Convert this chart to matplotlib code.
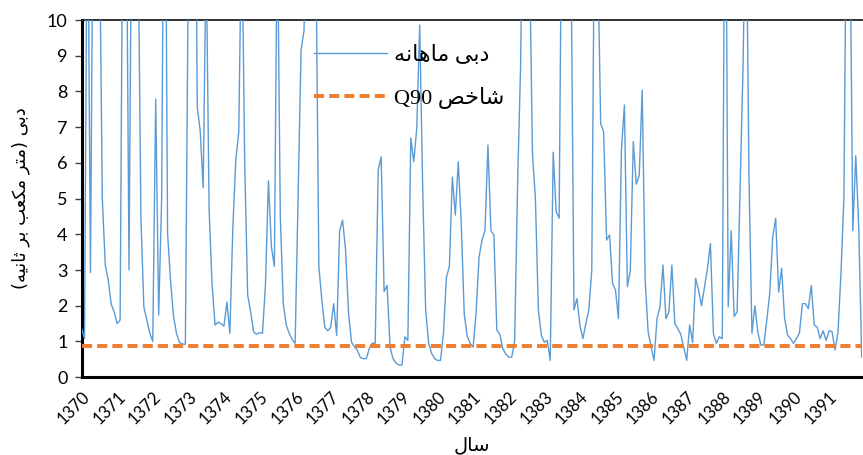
import matplotlib
matplotlib.use('Agg')
import matplotlib.pyplot as plt
import numpy as np
from matplotlib import font_manager, ft2font

# ---------------- data (monthly discharge, m3/s; values > 10 are off-scale) -------------
years = list(range(1370, 1392))
q1370 = [1.37, 1.08, 15, 2.93, 15, 15, 13, 5.0, 3.14, 2.72, 2.04, 1.83]
q1371 = [1.5, 1.6, 15, 15, 3.0, 15, 15, 13, 4.5, 1.97, 1.6, 1.23]
q1372 = [1.0, 7.78, 1.74, 5.0, 18, 4.03, 2.7, 1.7, 1.23, 0.97, 0.93, 0.92]
q1373 = [11.6, 14, 20, 7.57, 6.9, 5.3, 12, 4.7, 2.6, 1.46, 1.54, 1.5]
q1374 = [1.43, 2.1, 1.23, 4.2, 6.08, 6.87, 13, 6.0, 2.3, 1.83, 1.27, 1.2]
q1375 = [1.25, 1.23, 2.6, 5.5, 3.65, 3.1, 13, 4.5, 2.06, 1.46, 1.23, 1.05]
q1376 = [0.95, 5.0, 9.16, 9.7, 15, 15, 15, 12, 3.1, 2.16, 1.4, 1.3]
q1377 = [1.4, 2.06, 1.17, 4.1, 4.4, 3.56, 1.8, 0.98, 0.85, 0.75, 0.55, 0.52]
q1378 = [0.52, 0.8, 0.95, 0.95, 5.8, 6.17, 2.4, 2.57, 0.84, 0.52, 0.4, 0.34]
q1379 = [0.34, 1.13, 1.03, 6.7, 6.03, 6.97, 9.86, 5.3, 1.88, 0.95, 0.67, 0.52]
q1380 = [0.47, 0.47, 1.23, 2.8, 3.1, 5.6, 4.54, 6.03, 4.3, 1.78, 1.15, 0.95]
q1381 = [0.84, 1.8, 3.36, 3.84, 4.1, 6.5, 4.1, 3.98, 1.32, 1.2, 0.8, 0.65]
q1382 = [0.56, 0.56, 1.0, 5.43, 8.7, 15, 15, 12, 6.27, 5.0, 1.88, 1.17]
q1383 = [0.98, 1.03, 0.47, 6.3, 4.63, 4.45, 15, 16, 15, 12, 1.88, 2.2]
q1384 = [1.46, 1.08, 1.5, 1.88, 3.0, 14, 12, 7.1, 6.87, 3.84, 3.98, 2.63]
q1385 = [2.44, 1.64, 6.36, 7.62, 2.53, 3.0, 6.6, 5.4, 5.65, 8.04, 2.72, 1.27]
q1386 = [0.84, 0.47, 1.64, 1.97, 3.14, 1.64, 1.83, 3.14, 1.5, 1.36, 1.2, 0.84]
q1387 = [0.47, 1.46, 0.97, 2.77, 2.44, 2.0, 2.53, 3.04, 3.74, 1.23, 0.95, 1.13]
q1388 = [1.08, 17, 1.97, 4.1, 1.7, 1.83, 5.3, 8.7, 14, 5.6, 1.23, 2.0]
q1389 = [1.25, 0.9, 0.9, 1.6, 2.35, 3.92, 4.45, 2.38, 3.05, 1.65, 1.18, 1.08]
q1390 = [0.95, 1.08, 1.23, 2.06, 2.06, 1.92, 2.57, 1.46, 1.4, 1.08, 1.3, 1.03]
q1391 = [1.3, 1.28, 0.76, 1.25, 2.9, 5.0, 15, 13, 4.1, 6.2, 4.2, 0.56]
q90 = 0.87

monthly = (q1370 + q1371 + q1372 + q1373 + q1374 + q1375 + q1376 + q1377 +
           q1378 + q1379 + q1380 + q1381 + q1382 + q1383 + q1384 + q1385 +
           q1386 + q1387 + q1388 + q1389 + q1390 + q1391)

# ---------------- minimal Arabic/Persian shaping (matplotlib has no text shaping) ------
_dv_path = font_manager.findfont('DejaVu Sans')
_cmap = ft2font.FT2Font(_dv_path).get_charmap()
def _has(c):
    return ord(c) in _cmap

FORMS = {
    '\u0627': ('\uFE8D', '\uFE8E', None, None),
    '\u0628': ('\uFE8F', '\uFE90', '\uFE91', '\uFE92'),
    '\u062A': ('\uFE95', '\uFE96', '\uFE97', '\uFE98'),
    '\u062B': ('\uFE99', '\uFE9A', '\uFE9B', '\uFE9C'),
    '\u062E': ('\uFEA5', '\uFEA6', '\uFEA7', '\uFEA8'),
    '\u062F': ('\uFEA9', '\uFEAA', None, None),
    '\u0631': ('\uFEAD', '\uFEAE', None, None),
    '\u0633': ('\uFEB1', '\uFEB2', '\uFEB3', '\uFEB4'),
    '\u0634': ('\uFEB5', '\uFEB6', '\uFEB7', '\uFEB8'),
    '\u0635': ('\uFEB9', '\uFEBA', '\uFEBB', '\uFEBC'),
    '\u0639': ('\uFEC9', '\uFECA', '\uFECB', '\uFECC'),
    '\u0644': ('\uFEDD', '\uFEDE', '\uFEDF', '\uFEE0'),
    '\u0645': ('\uFEE1', '\uFEE2', '\uFEE3', '\uFEE4'),
    '\u0646': ('\uFEE5', '\uFEE6', '\uFEE7', '\uFEE8'),
    '\u0647': ('\uFEE9', '\uFEEA', '\uFEEB', '\uFEEC'),
}
if all(_has(c) for c in '\uFBFC\uFBFD\uFBFE\uFBFF'):
    FORMS['\u06CC'] = ('\uFBFC', '\uFBFD', '\uFBFE', '\uFBFF')
else:
    FORMS['\u06CC'] = ('\uFEEF', '\uFEF0', '\uFEF3', '\uFEF4')
if all(_has(c) for c in '\uFB8E\uFB8F\uFB90\uFB91'):
    FORMS['\u06A9'] = ('\uFB8E', '\uFB8F', '\uFB90', '\uFB91')
else:
    FORMS['\u06A9'] = ('\uFED9', '\uFEDA', '\uFEDB', '\uFEDC')

MIRROR = {'(': ')', ')': '('}

def ar(s):
    out = []
    for k, c in enumerate(s):
        if c not in FORMS:
            out.append(MIRROR.get(c, c))
            continue
        prev = s[k - 1] if k > 0 else ''
        nxt = s[k + 1] if k + 1 < len(s) else ''
        pj = prev in FORMS and FORMS[prev][2] is not None
        nj = FORMS[c][2] is not None and nxt in FORMS
        iso, fin, ini, med = FORMS[c]
        if pj and nj:
            out.append(med)
        elif pj:
            out.append(fin)
        elif nj:
            out.append(ini)
        else:
            out.append(iso)
    return ''.join(reversed(out))

lbl_flow = ar('دبی ماهانه')
lbl_q90 = 'Q90 ' + ar('شاخص')
lbl_y = ar('دبی (متر مکعب بر ثانیه)')
lbl_x = ar('سال')

# ---------------- plot ----------------
fig = plt.figure(figsize=(8.63, 4.55), dpi=100)
ax = fig.add_axes([0.0945, 0.171, 0.904, 0.785])

x = np.arange(len(monthly))
ax.plot(x, monthly, color='#5B9BD5', lw=1.0, label=lbl_flow, zorder=3)
ax.plot([x[0], x[-1]], [q90, q90], color='#ED7D31', lw=2.8,
        dashes=(2.6, 1.3), label=lbl_q90, zorder=4)

ax.set_xlim(0, len(monthly) - 1)
ax.set_ylim(0, 10)
ax.set_yticks(range(0, 11))
ax.set_xticks(np.arange(0, len(monthly), 12))
ax.set_xticklabels([str(y) for y in years], rotation=45, ha='right',
                   va='top', rotation_mode='anchor', fontsize=12,
                   family=['Lato', 'DejaVu Sans'])
for t in ax.get_yticklabels():
    t.set_fontsize(13)
    t.set_family(['Lato', 'DejaVu Sans'])
ax.tick_params(axis='x', length=0, pad=8)
ax.tick_params(axis='y', length=5, width=1.0, color='#404040', pad=5)

for s in ['left', 'bottom']:
    ax.spines[s].set_linewidth(2.2)
    ax.spines[s].set_color('black')
ax.spines['top'].set_linewidth(1.3)
ax.spines['top'].set_color('#222222')
ax.spines['right'].set_visible(False)

ax.set_ylabel(lbl_y, fontsize=13, family=['DejaVu Sans'], labelpad=12)
ax.set_xlabel(lbl_x, fontsize=14, family=['DejaVu Sans'], labelpad=6)

leg = ax.legend(loc='upper left', bbox_to_anchor=(0.272, 0.985), frameon=False,
                handlelength=3.3, handletextpad=0.3, labelspacing=0.95,
                prop={'family': ['Liberation Serif', 'DejaVu Sans'], 'size': 16})

fig.savefig('out.png', dpi=100)
